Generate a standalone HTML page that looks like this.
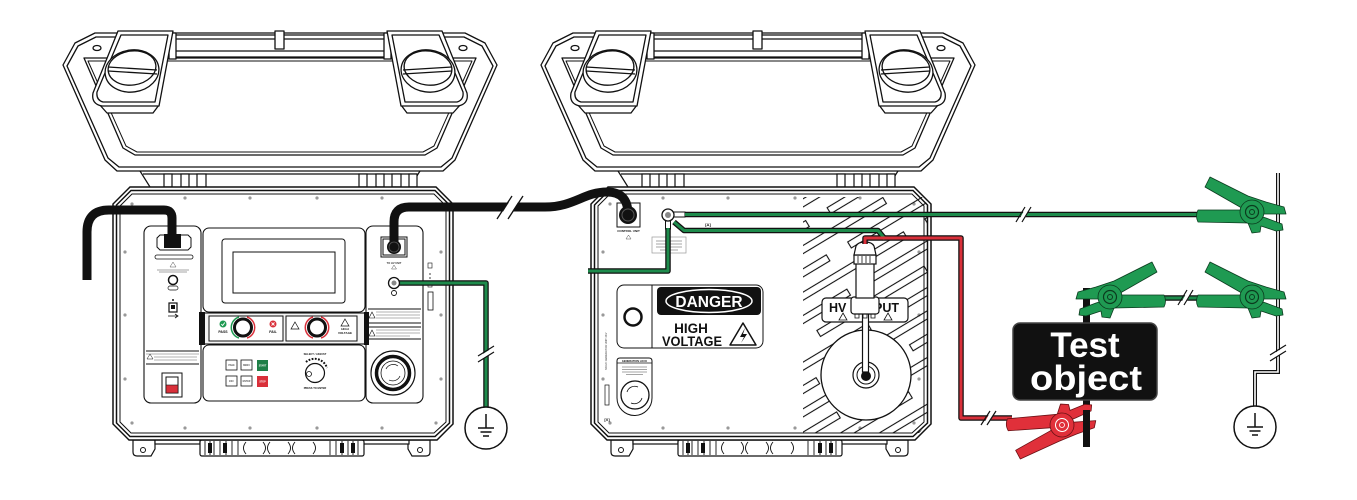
<!DOCTYPE html>
<html><head><meta charset="utf-8">
<style>
html,body{margin:0;padding:0;background:#fff;}
svg{display:block;}
text{font-family:"Liberation Sans",sans-serif;font-weight:bold;}
</style></head><body>
<svg width="1357" height="500" viewBox="0 0 1357 500" xmlns="http://www.w3.org/2000/svg">
<defs>
 <g id="latch" stroke="#111" stroke-width="1.3" stroke-linejoin="round">
  <path d="M99,104 L107,113 L153,113 L159,105" fill="#fff"/>
  <rect x="169" y="33" width="7" height="26" fill="#fff"/>
  <path d="M118,31 L173,31 L159,106 L102,106 Q91,104 93,93 Z" fill="#fff"/>
  <path d="M121,35 L168,35 L155,102 L103,102 Q96,100 97,92 Z" fill="none"/>
  <ellipse cx="132" cy="71" rx="27" ry="21" transform="rotate(-8 132 71)" fill="#fff"/>
  <ellipse cx="132" cy="68" rx="24" ry="17" transform="rotate(-8 132 68)" fill="none"/>
  <path d="M108,67 L157,70 M108,71 L157,74" fill="none"/>
 </g>
 <g id="lid" stroke="#111" stroke-width="1.3" stroke-linejoin="round">
  <polygon points="63,65 75,43 95,33 465,33 485,43 497,65 455,160 443,171 117,171 105,160" fill="#fff"/>
  <polygon points="67,66 78,46 96,37 464,37 482,46 493,66 452,158 441,167 119,167 108,158" fill="none"/>
  <polygon points="84,58 476,58 437,148 425,155 135,155 123,148" fill="#fff"/>
  <polygon points="88,61 472,61 434,146 423,152 137,152 126,146" fill="none" stroke-width="1"/>
  <ellipse cx="97" cy="48" rx="4" ry="2.5" fill="none"/>
  <ellipse cx="463" cy="48" rx="4" ry="2.5" fill="none"/>
  <rect x="172" y="35" width="216" height="22" fill="#fff"/>
  <line x1="172" y1="39" x2="388" y2="39"/>
  <line x1="172" y1="51" x2="388" y2="51"/>
  <rect x="275" y="31" width="9" height="18" fill="#fff"/>
  <use href="#latch"/>
  <use href="#latch" transform="translate(560,0) scale(-1,1)"/>
 </g>
 <g id="shell">
  <g fill="#fff" stroke="#111" stroke-width="1.2">
   <path d="M140,171 L150,187 M420,171 L410,187 M143,174 L417,174" fill="none"/>
   <rect x="164" y="174" width="8" height="13"/><rect x="181" y="174" width="8" height="13"/><rect x="197" y="174" width="9" height="13"/>
   <rect x="359" y="174" width="8" height="13"/><rect x="376" y="174" width="8" height="13"/><rect x="392" y="174" width="9" height="13"/><rect x="409" y="174" width="8" height="13"/>
   <path d="M133,440 L133,452 Q133,456 137,456 L151,456 L155,449 L155,440 Z"/>
   <path d="M430,440 L430,452 Q430,456 426,456 L412,456 L408,449 L408,440 Z"/>
   <rect x="155" y="440" width="45" height="4"/>
   <rect x="363" y="440" width="46" height="4"/>
   <rect x="200" y="440" width="164" height="16" rx="2"/>
  </g>
  <circle cx="143" cy="450" r="2.5" fill="none" stroke="#111"/>
  <circle cx="420" cy="450" r="2.5" fill="none" stroke="#111"/>
  <path d="M205,441 V455 M210,441 V455 M214,441 V455 M220,441 V455 M226,441 V455 M232,441 V455 M238,441 V455 M330,441 V455 M336,441 V455 M342,441 V455 M348,441 V455 M353,441 V455 M358,441 V455
   M246,442 Q241,448 246,454 M263,442 Q268,448 263,454 M270,442 Q265,448 270,454 M288,442 Q293,448 288,454 M295,442 Q290,448 295,454 M313,442 Q318,448 313,454" fill="none" stroke="#111" stroke-width="0.9"/>
  <rect x="208" y="443" width="4" height="10" fill="#111"/><rect x="223" y="443" width="4" height="10" fill="#111"/><rect x="340" y="443" width="4" height="10" fill="#111"/><rect x="351" y="443" width="4" height="10" fill="#111"/>
  <polygon points="130,187 436,187 453,204 453,424 437,440 129,440 113,424 113,204" fill="#fff" stroke="#111" stroke-width="1.5"/>
  <polygon points="131,190.5 435,190.5 449.5,205 449.5,423 435,436.5 130,436.5 116.5,423 116.5,205" fill="none" stroke="#111" stroke-width="1.5"/>
  <polygon points="132,194 434,194 446,206 446,422 434,433 131,433 120,422 120,206" fill="none" stroke="#111" stroke-width="1"/>
  <g fill="#999">
   <circle cx="185" cy="198" r="1.6"/><circle cx="250" cy="198" r="1.6"/><circle cx="317" cy="198" r="1.6"/><circle cx="382" cy="198" r="1.6"/>
   <circle cx="185" cy="428" r="1.6"/><circle cx="250" cy="428" r="1.6"/><circle cx="317" cy="428" r="1.6"/><circle cx="382" cy="428" r="1.6"/>
   <circle cx="125" cy="252" r="1.6"/><circle cx="125" cy="315" r="1.6"/><circle cx="125" cy="379" r="1.6"/>
   <circle cx="441" cy="252" r="1.6"/><circle cx="441" cy="315" r="1.6"/><circle cx="441" cy="379" r="1.6"/>
   <circle cx="132" cy="204" r="1.6"/><circle cx="436" cy="204" r="1.6"/><circle cx="132" cy="423" r="1.6"/><circle cx="436" cy="423" r="1.6"/>
  </g>
 </g>
 <g id="gclamp" stroke="#0b3b1e" stroke-width="0.8" stroke-linejoin="round" fill="#1f9a52">
  <path d="M-54,-2 L-12,-2 L14,6 L30,12 L31,18 L24,19 L9,14 L8,20 L0,21 L-4,11 L-54,10 Q-57,4 -54,-2 Z"/>
  <path d="M-47,-25 L-42,-35 L-4,-16 L14,-10 L32,-5 L34,2 L12,2 L-2,4 L-12,-5 Z"/>
  <circle r="12"/>
  <circle r="6.5" fill="none" stroke="#0b3b1e" stroke-width="1.2"/>
  <circle r="2.5" fill="none" stroke="#0b3b1e" stroke-width="1"/>
 </g>
 <g id="gnd" stroke="#111" stroke-width="1.5">
  <circle r="21" fill="#fff"/>
  <path d="M0,-14 V0 M-8,0 H8 M-5.5,4 H5.5 M-3,8 H3" fill="none"/>
 </g>
 <pattern id="hatch" width="150" height="40" patternUnits="userSpaceOnUse" patternTransform="rotate(-31)">
  <rect x="2" y="4" width="125" height="7" fill="none" stroke="#111" stroke-width="1.1"/>
  <rect x="80" y="24" width="125" height="7" fill="none" stroke="#111" stroke-width="1.1"/>
  <rect x="-70" y="24" width="125" height="7" fill="none" stroke="#111" stroke-width="1.1"/>
 </pattern>
</defs>

<use href="#lid"/>
<use href="#lid" transform="translate(478,0)"/>
<use href="#shell"/>
<use href="#shell" transform="translate(478,0)"/>

<!-- ===== UNIT 1 PANELS ===== -->
<g stroke="#111" stroke-width="1.1" fill="#fff">
 <rect x="144" y="226" width="57" height="177" rx="7"/>
 <rect x="203" y="228" width="162" height="84" rx="6"/>
 <rect x="366" y="226" width="57" height="177" rx="7"/>
 <rect x="203" y="345" width="162" height="56" rx="6"/>
 <rect x="204" y="313" width="161" height="31" fill="#f4f4f4"/>
</g>
<rect x="199" y="312" width="6" height="33" fill="#111"/>
<rect x="364" y="312" width="5" height="33" fill="#111"/>
<g stroke="#111" stroke-width="1" fill="#fff">
 <rect x="209" y="316" width="74" height="25"/>
 <rect x="286" y="316" width="71" height="25"/>
 <rect x="222" y="239" width="123" height="64" rx="3"/>
 <rect x="233" y="252" width="102" height="41"/>
</g>
<path d="M239,317 A11,11 0 0 0 239,338" fill="none" stroke="#1f9a52" stroke-width="1.5"/>
<path d="M247,317 A11,11 0 0 1 247,338" fill="none" stroke="#d9303a" stroke-width="1.5"/>
<circle cx="243" cy="327.5" r="8.5" fill="#fff" stroke="#111" stroke-width="3"/>
<path d="M313,317 A11,11 0 0 0 313,338" fill="none" stroke="#d9303a" stroke-width="1.5"/>
<path d="M321,317 A11,11 0 0 1 321,338" fill="none" stroke="#d9303a" stroke-width="1.5"/>
<circle cx="317" cy="327.5" r="8.5" fill="#fff" stroke="#111" stroke-width="3"/>
<circle cx="223" cy="324" r="3.5" fill="#1f9a52"/>
<path d="M221.3,324 L222.6,325.5 L224.8,322.5" stroke="#fff" stroke-width="0.9" fill="none"/>
<circle cx="273" cy="324" r="3.5" fill="#d9303a"/>
<path d="M271.5,322.5 L274.5,325.5 M274.5,322.5 L271.5,325.5" stroke="#fff" stroke-width="0.9"/>
<text x="223" y="333" font-size="3.5" text-anchor="middle" fill="#111">PASS</text>
<text x="273" y="333" font-size="3.5" text-anchor="middle" fill="#111">FAIL</text>
<path d="M295,322 L299,329 L291,329 Z" fill="none" stroke="#111" stroke-width="0.7"/>
<path d="M345,319 L349,326 L341,326 Z" fill="none" stroke="#111" stroke-width="0.7"/>
<text x="345" y="330" font-size="3" text-anchor="middle" fill="#111">HIGH</text>
<text x="345" y="334" font-size="3" text-anchor="middle" fill="#111">VOLTAGE</text>
<g stroke="#111" stroke-width="0.8" fill="#fff">
 <rect x="226" y="360" width="11" height="10"/><rect x="241" y="360" width="11" height="10"/>
 <rect x="226" y="376" width="11" height="10"/><rect x="241" y="376" width="11" height="10"/>
</g>
<rect x="257" y="360" width="11" height="11" fill="#1e7f47"/>
<rect x="257" y="376" width="11" height="11" fill="#d9303a"/>
<g font-size="2.3" text-anchor="middle" fill="#555">
 <text x="231.5" y="366">PAGE</text><text x="246.5" y="366">MENU</text><text x="262.5" y="366.5" fill="#fff">START</text>
 <text x="231.5" y="382">ESC</text><text x="246.5" y="382">ENTER</text><text x="262.5" y="382.5" fill="#fff">STOP</text>
 <text x="315" y="355" fill="#111" font-size="2.6">SELECT / ADJUST</text>
 <text x="315" y="389" fill="#111" font-size="2.6">PRESS TO ENTER</text>
</g>
<path d="M306,362 A13,13 0 0 1 327,368" fill="none" stroke="#111" stroke-width="2" stroke-dasharray="1.8 1.4"/>
<circle cx="315" cy="373" r="9.5" fill="#fff" stroke="#111" stroke-width="1.2"/>
<circle cx="309" cy="374" r="2.5" fill="none" stroke="#111" stroke-width="0.8"/>
<polygon points="160,235 188,235 191,238 191,247 188,250 160,250 157,247 157,238" fill="#fff" stroke="#111" stroke-width="1"/>
<rect x="164" y="234" width="17" height="14" fill="#111"/>
<rect x="155" y="255" width="38" height="4" rx="2" fill="#fff" stroke="#111" stroke-width="0.8"/>
<path d="M173,262 L176,267 L170,267 Z" fill="none" stroke="#555" stroke-width="0.5"/>
<path d="M157,270 H189 M159,272 H187" stroke="#888" stroke-width="0.8"/>
<circle cx="173" cy="280" r="4.5" fill="#fff" stroke="#111" stroke-width="1.5"/>
<rect x="168" y="286" width="10" height="4" rx="2" fill="#fff" stroke="#111" stroke-width="0.7"/>
<circle cx="173" cy="300" r="1" fill="#111"/>
<rect x="169" y="303" width="8" height="9" fill="#fff" stroke="#111" stroke-width="1.2"/>
<rect x="171" y="305" width="4" height="4" fill="#111"/>
<path d="M168,316 H178 M175,314 L178,316 L175,318" stroke="#111" stroke-width="0.8" fill="none"/>
<path d="M146,351 H199 M146,364 H199" stroke="#111" stroke-width="1"/>
<path d="M146,354 H199 M154,357 H197 M154,360 H197" stroke="#999" stroke-width="0.8"/>
<path d="M150,354 L153,359 L147,359 Z" fill="none" stroke="#111" stroke-width="0.5"/>
<rect x="162" y="373" width="20" height="24" fill="#fff" stroke="#111" stroke-width="1"/>
<rect x="166" y="377" width="12" height="16" fill="#fff" stroke="#111" stroke-width="1"/>
<rect x="166" y="385" width="12" height="8" fill="#d9303a" stroke="#111" stroke-width="0.6"/>
<rect x="381" y="237" width="26" height="20" fill="#fff" stroke="#111" stroke-width="1"/>
<text x="394" y="264" font-size="2.6" text-anchor="middle" fill="#333">TO HV UNIT</text>
<path d="M394,265 L396.5,269 L391.5,269 Z" fill="none" stroke="#555" stroke-width="0.5"/>
<circle cx="394" cy="293" r="2.5" fill="#fff" stroke="#111" stroke-width="0.9"/>
<path d="M368,309 H421 M368,323 H421 M368,327 H421 M368,339 H421" stroke="#111" stroke-width="1"/>
<path d="M376,312 H420 M376,315 H420 M376,318 H420 M376,330 H420 M376,333 H420 M376,336 H410" stroke="#999" stroke-width="0.8"/>
<path d="M372,312 L375,318 L369,318 Z M372,330 L375,336 L369,336 Z" fill="none" stroke="#111" stroke-width="0.6"/>
<circle cx="393" cy="373" r="22" fill="#fff" stroke="#111" stroke-width="1.2"/>
<circle cx="393" cy="373" r="16.5" fill="none" stroke="#111" stroke-width="3.5"/>
<circle cx="393" cy="373" r="12" fill="#fff" stroke="#111" stroke-width="0.8"/>
<path d="M386,369 A8,8 0 0 1 398,366 M400,376 A8,8 0 0 1 389,380" fill="none" stroke="#111" stroke-width="0.7"/>
<rect x="428" y="263" width="4" height="5" fill="none" stroke="#111" stroke-width="0.6"/>
<path d="M430,273 v2 M430,277 v2" stroke="#111" stroke-width="0.8"/>
<rect x="428" y="283" width="4" height="4" fill="none" stroke="#111" stroke-width="0.6"/>
<rect x="428" y="292" width="5" height="18" fill="#fff" stroke="#111" stroke-width="0.8"/>

<!-- ===== UNIT 2 PANEL ===== -->
<polygon points="803,197 922,197 928,205 928,424 919,433 803,433" fill="url(#hatch)"/>
<circle cx="866" cy="375" r="45" fill="#fff" stroke="#111" stroke-width="1.3"/>
<circle cx="866" cy="375" r="13" fill="#fff" stroke="#111" stroke-width="1.2"/>
<circle cx="866" cy="375" r="9" fill="#fff" stroke="#111" stroke-width="1"/>
<circle cx="866" cy="376" r="5" fill="#111"/>
<rect x="822" y="298" width="86" height="24" rx="4" fill="#fff" stroke="#111" stroke-width="1.2"/>
<text x="829" y="312" font-size="12.5" fill="#111">HV</text>
<text x="874" y="312" font-size="12.5" fill="#111">PUT</text>
<path d="M843,313 L847,320 L839,320 Z M888,313 L892,320 L884,320 Z" fill="none" stroke="#111" stroke-width="0.8"/>
<rect x="862.5" y="312" width="6" height="60" fill="#fff" stroke="#111" stroke-width="1.2"/>
<g stroke="#111" stroke-width="1.2" fill="#fff">
 <rect x="851" y="297" width="28" height="17" rx="3"/>
 <rect x="856" y="263" width="18" height="35"/>
 <rect x="854" y="255" width="22" height="9"/>
 <path d="M854,255 L856,246 Q858,242 865,242 Q872,242 874,246 L876,255 Z"/>
 <path d="M858,256 v7 M862,256 v7 M866,256 v7 M870,256 v7" fill="none" stroke-width="0.8"/>
 <path d="M855,314 v4 h4 v-4 M863,314 v4 h4 v-4 M871,314 v4 h4 v-4" fill="none" stroke-width="0.8"/>
</g>
<rect x="617" y="203" width="23" height="24" fill="#fff" stroke="#111" stroke-width="1"/>
<text x="628.5" y="232" font-size="3" text-anchor="middle" fill="#111">CONTROL UNIT</text>
<path d="M628.5,235 L631,239 L626,239 Z" fill="none" stroke="#555" stroke-width="0.5"/>
<rect x="673" y="212" width="12" height="5" fill="#fff" stroke="#111" stroke-width="1"/>
<rect x="665.5" y="220" width="5" height="9" fill="#fff" stroke="#111" stroke-width="1"/>
<text x="708" y="226" font-size="4" text-anchor="middle" fill="#111">[A]</text>
<rect x="652" y="237" width="34" height="16" fill="#fff" stroke="#999" stroke-width="0.7"/>
<path d="M656,241 H682 M656,244 H682 M656,247 H682 M660,250 H678" stroke="#888" stroke-width="0.8"/>
<rect x="617" y="285" width="146" height="63" rx="7" fill="#fff" stroke="#111" stroke-width="1"/>
<line x1="652" y1="285" x2="652" y2="348" stroke="#111" stroke-width="1"/>
<circle cx="633" cy="317" r="8.5" fill="#fff" stroke="#111" stroke-width="2.5"/>
<rect x="657" y="287" width="104" height="28" rx="4" fill="#111"/>
<ellipse cx="709" cy="301" rx="43" ry="11.5" fill="none" stroke="#fff" stroke-width="1.5"/>
<text x="709" y="307" font-size="15.5" text-anchor="middle" fill="#fff">DANGER</text>
<text x="691" y="333" font-size="13.5" text-anchor="middle" fill="#111">HIGH</text>
<text x="692" y="346" font-size="13.5" text-anchor="middle" fill="#111" textLength="60" lengthAdjust="spacingAndGlyphs">VOLTAGE</text>
<path d="M743,323 L756,345 L730,345 Z" fill="none" stroke="#111" stroke-width="1.5" stroke-linejoin="round"/>
<path d="M745,328 L740,337 L744,337 L741,343 L747,334 L743,334 Z" fill="#111"/>
<path d="M617,361 Q617,358 620,358 L649,358 Q652,358 652,361 L652,398 A17.5,17.5 0 0 1 617,398 Z" fill="#fff" stroke="#111" stroke-width="1"/>
<line x1="617" y1="363" x2="652" y2="363" stroke="#111" stroke-width="0.8"/>
<text x="634.5" y="362" font-size="2.6" text-anchor="middle" fill="#111">GENERATION LOCK</text>
<path d="M622,367 H647 M622,369.5 H647 M622,372 H647 M626,374.5 H643" stroke="#888" stroke-width="0.8"/>
<circle cx="635" cy="395" r="14" fill="#fff" stroke="#111" stroke-width="1.3"/>
<path d="M627,392 A8,8 0 0 1 638,387 M642,398 A8,8 0 0 1 631,403" fill="none" stroke="#111" stroke-width="0.8"/>
<text transform="translate(607,370) rotate(-90)" font-size="2.6" fill="#777">SN  HV GENERATOR UNIT  2KV</text>
<rect x="605" y="385" width="4" height="20" fill="#fff" stroke="#111" stroke-width="0.7"/>
<text x="607" y="421" font-size="4" text-anchor="middle" fill="#111">[X]</text>

<!-- ===== CABLES ===== -->
<g fill="none" stroke-linecap="butt" stroke-linejoin="round">
 <path d="M87,280 L87,232 Q87,210 109,210 L164,210 Q172,210 172,218 L172,238" stroke="#111" stroke-width="9"/>
 <path d="M394,247 L394,222 Q394,207 409,207 L545,207 C574,207 584,192 607,192 Q628,192 628,214" stroke="#111" stroke-width="9"/>
 <g stroke="#111" stroke-width="5.5">
  <path d="M398,283 L486,283 L486,408"/>
  <path d="M685,214.5 L1200,214.5"/>
  <path d="M674,222 L684,230.5 L878,230.5 L885,239"/>
  <path d="M668,228 L668,271 L588,271"/>
  <path d="M1160,298 L1200,298"/>
  <path d="M865,244 L865,238 L961,238 L961,418 L1012,418"/>
 </g>
 <g stroke="#1e8b4c" stroke-width="3">
  <path d="M398,283 L486,283 L486,408"/>
  <path d="M685,214.5 L1200,214.5"/>
  <path d="M674,222 L684,230.5 L878,230.5 L885,239"/>
  <path d="M668,228 L668,271 L588,271"/>
  <path d="M1160,298 L1200,298"/>
 </g>
 <path d="M865,244 L865,238 L961,238 L961,418 L1012,418" stroke="#d9303a" stroke-width="3"/>
</g>
<circle cx="628" cy="215" r="9" fill="#111"/>
<circle cx="628" cy="215" r="6" fill="none" stroke="#555" stroke-width="1"/>
<path d="M166,237 h13 v11 h-13 z" fill="#111"/>
<rect x="383" y="239" width="22" height="16" fill="none" stroke="#111" stroke-width="1"/>
<circle cx="394" cy="247" r="7" fill="#111"/>
<circle cx="394" cy="247" r="5" fill="none" stroke="#555" stroke-width="0.8"/>
<circle cx="394" cy="283" r="5.5" fill="#fff" stroke="#111" stroke-width="1.3"/>
<circle cx="394" cy="283" r="2.5" fill="#888"/>
<circle cx="668" cy="215" r="6" fill="#fff" stroke="#111" stroke-width="1.3"/>
<circle cx="668" cy="215" r="3" fill="#888"/>

<g>
 <polygon points="499,218 508,218 522,196 513,196" fill="#fff"/>
 <path d="M497,219 L512,196 M508,219 L523,196" stroke="#111" stroke-width="1.3"/>
 <polygon points="1018,222 1023,222 1031,207 1026,207" fill="#fff"/>
 <path d="M1016,222 L1025,207 M1022,222 L1031,207" stroke="#111" stroke-width="1.2"/>
 <polygon points="478,357 494,347 494,352 478,362" fill="#fff"/>
 <path d="M478,356 L494,346 M478,362 L494,352" stroke="#111" stroke-width="1.2"/>
 <polygon points="1180,305 1185,305 1193,290 1188,290" fill="#fff"/>
 <path d="M1178,305 L1187,290 M1184,305 L1193,290" stroke="#111" stroke-width="1.2"/>
 <polygon points="983,425 988,425 996,411 991,411" fill="#fff"/>
 <path d="M981,425 L990,411 M987,425 L996,411" stroke="#111" stroke-width="1.2"/>
</g>

<path d="M1278,173 L1278,372 L1255,372 L1255,406" fill="none" stroke="#111" stroke-width="4"/>
<path d="M1278,173 L1278,372 L1255,372 L1255,406" fill="none" stroke="#fff" stroke-width="1.6"/>
<polygon points="1270,356 1286,346 1286,351 1270,361" fill="#fff"/>
<path d="M1270,355 L1286,345 M1270,361 L1286,351" stroke="#111" stroke-width="1.2"/>
<use href="#gnd" transform="translate(1255,427)"/>
<use href="#gnd" transform="translate(486,428)"/>

<rect x="1083" y="288" width="7" height="159" fill="#111"/>
<rect x="1013" y="323" width="144" height="77" rx="7" fill="#111" stroke="#444" stroke-width="1.5"/>
<text x="1085" y="357" font-size="35" text-anchor="middle" fill="#fff">Test</text>
<text x="1086" y="390" font-size="35" text-anchor="middle" fill="#fff" textLength="112" lengthAdjust="spacingAndGlyphs">object</text>

<use href="#gclamp" transform="translate(1252,212)"/>
<use href="#gclamp" transform="translate(1252,297)"/>
<use href="#gclamp" transform="translate(1110,297) scale(-1,1)"/>
<g transform="translate(1062,425) rotate(-4) scale(1,-1)">
 <g stroke="#6a1014" stroke-width="0.8" stroke-linejoin="round" fill="#e0303a">
  <path d="M-54,-2 L-12,-2 L14,6 L30,12 L31,18 L24,19 L9,14 L8,20 L0,21 L-4,11 L-54,10 Q-57,4 -54,-2 Z"/>
  <path d="M-48,-22 L-44,-31 L-4,-16 L14,-10 L32,-5 L34,2 L12,2 L-2,4 L-12,-5 Z"/>
  <circle r="12"/>
  <circle r="6.5" fill="none" stroke="#fff" stroke-width="1"/>
  <circle r="2.5" fill="none" stroke="#fff" stroke-width="0.8"/>
 </g>
</g>
<rect x="1083" y="410" width="7" height="37" fill="#111"/>
</svg>
</body></html>
